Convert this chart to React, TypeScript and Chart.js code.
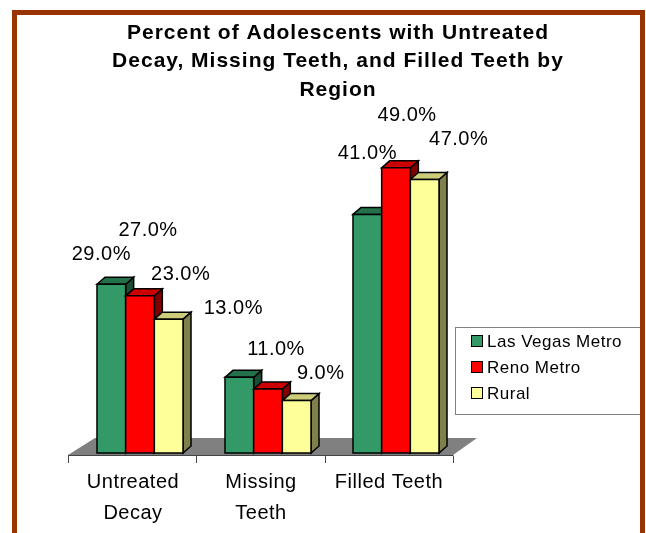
import React, { useEffect, useRef } from "react";
import { Chart, registerables } from "chart.js";

Chart.register(...registerables);

// ---- data ----
const categories: string[][] = [["Untreated", "Decay"], ["Missing", "Teeth"], ["Filled Teeth"]];
const seriesNames: string[] = ["Las Vegas Metro", "Reno Metro", "Rural"];
const lasVegasMetro: number[] = [29, 13, 41];
const renoMetro: number[] = [27, 11, 49];
const rural: number[] = [23, 9, 47];
const titleLines: string[] = [
  "Percent of Adolescents with Untreated",
  "Decay, Missing Teeth, and Filled Teeth by",
  "Region",
];

// ---- styles ----
const FONT = "'Liberation Sans', Arial, sans-serif";
const frontColors = ["#339966", "#FF0000", "#FFFF99"];
const topColors = ["#23714a", "#CC0000", "#CCCC7A"];
const sideColors = ["#1a4d33", "#800000", "#80804D"];
// label nudges (px) relative to each bar's front-top centre, per series
const labelNudge: [number, number][][] = [
  [[-10, -30], [-6, -69], [0, -61]],
  [[8, -65], [8, -39], [11, -52]],
  [[12, -45], [24, -27], [34, -40]],
];
const DEPTH_X = 8;
const DEPTH_Y = 7;

function setSpacing(ctx: any, v: string) {
  try {
    ctx.letterSpacing = v;
  } catch (e) {
    /* ignore */
  }
}

const threeDPlugin = {
  id: "threeD",
  beforeDatasetsDraw(chart: any) {
    const { ctx, chartArea } = chart;
    const L = chartArea.left, R = chartArea.right, B = chartArea.bottom;
    ctx.save();
    // floor
    ctx.fillStyle = "#808080";
    ctx.beginPath();
    ctx.moveTo(L - 8, B + 2);
    ctx.lineTo(R - 7, B + 2);
    ctx.lineTo(R + 17, B - 15);
    ctx.lineTo(L + 19, B - 15);
    ctx.closePath();
    ctx.fill();
    // axis line + ticks
    ctx.strokeStyle = "#444";
    ctx.lineWidth = 1;
    ctx.beginPath();
    ctx.moveTo(L - 8, B + 2.5);
    ctx.lineTo(R - 7, B + 2.5);
    const n = categories.length;
    for (let i = 0; i <= n; i++) {
      const x = Math.round(L - 8 + (i * (R - L + 1)) / n) + 0.5;
      ctx.moveTo(x, B + 2.5);
      ctx.lineTo(x, B + 10);
    }
    ctx.stroke();
    ctx.restore();
  },
  afterDatasetsDraw(chart: any) {
    const { ctx } = chart;
    const nCat = categories.length;
    const nSer = chart.data.datasets.length;
    ctx.save();
    ctx.lineWidth = 1.5;
    ctx.strokeStyle = "#000";
    ctx.lineJoin = "miter";
    for (let i = 0; i < nCat; i++) {
      for (let d = 0; d < nSer; d++) {
        const el: any = chart.getDatasetMeta(d).data[i];
        const x0 = el.x - el.width / 2;
        const x1 = el.x + el.width / 2;
        const top = el.y;
        const base = el.base;
        // side
        ctx.fillStyle = sideColors[d];
        ctx.beginPath();
        ctx.moveTo(x1, top);
        ctx.lineTo(x1 + DEPTH_X, top - DEPTH_Y);
        ctx.lineTo(x1 + DEPTH_X, base - DEPTH_Y);
        ctx.lineTo(x1, base);
        ctx.closePath();
        ctx.fill();
        ctx.stroke();
        // top
        ctx.fillStyle = topColors[d];
        ctx.beginPath();
        ctx.moveTo(x0, top);
        ctx.lineTo(x0 + DEPTH_X, top - DEPTH_Y);
        ctx.lineTo(x1 + DEPTH_X, top - DEPTH_Y);
        ctx.lineTo(x1, top);
        ctx.closePath();
        ctx.fill();
        ctx.stroke();
        // front
        ctx.fillStyle = frontColors[d];
        ctx.beginPath();
        ctx.rect(x0, top, x1 - x0, base - top);
        ctx.fill();
        ctx.stroke();
      }
    }
    ctx.restore();
  },
  afterDraw(chart: any) {
    const { ctx, chartArea } = chart;
    const B = chartArea.bottom;
    ctx.save();
    // data labels
    ctx.fillStyle = "#000";
    ctx.font = `20px ${FONT}`;
    setSpacing(ctx, "0.5px");
    ctx.textAlign = "center";
    ctx.textBaseline = "middle";
    chart.data.datasets.forEach((ds: any, d: number) => {
      chart.getDatasetMeta(d).data.forEach((el: any, i: number) => {
        const [nx, ny] = labelNudge[d][i];
        ctx.fillText(`${Number(ds.data[i]).toFixed(1)}%`, el.x + nx, el.y + ny);
      });
    });
    // category labels
    ctx.font = `20px ${FONT}`;
    setSpacing(ctx, "0.5px");
    const xs = chart.scales.x;
    categories.forEach((lines, i) => {
      const cx = xs.getPixelForValue(i) - 7;
      lines.forEach((t, k) => ctx.fillText(t, cx, B + 29 + k * 31));
    });
    // title
    ctx.font = `bold 21px ${FONT}`;
    setSpacing(ctx, "1px");
    titleLines.forEach((t, k) => ctx.fillText(t, 338, 33 + k * 28.5));
    // legend
    setSpacing(ctx, "0.5px");
    ctx.strokeStyle = "#808080";
    ctx.lineWidth = 1;
    ctx.strokeRect(455.5, 327.5, 186, 87);
    ctx.font = `17px ${FONT}`;
    ctx.textAlign = "left";
    seriesNames.forEach((name, k) => {
      const cy = 341 + k * 26;
      ctx.fillStyle = frontColors[k];
      ctx.fillRect(471.5, cy - 5.5, 11, 11);
      ctx.strokeStyle = "#000";
      ctx.strokeRect(471.5, cy - 5.5, 11, 11);
      ctx.fillStyle = "#000";
      ctx.fillText(name, 487, cy + 1);
    });
    setSpacing(ctx, "0px");
    // frame
    ctx.strokeStyle = "#993300";
    ctx.lineWidth = 5;
    ctx.strokeRect(14.5, 12.5, 628, 545);
    ctx.restore();
  },
};

export default function App() {
  const canvasRef = useRef<HTMLCanvasElement | null>(null);
  useEffect(() => {
    if (!canvasRef.current) return;
    const chart = new Chart(canvasRef.current, {
      type: "bar",
      data: {
        labels: categories.map((c) => c.join(" ")),
        datasets: [
          { label: seriesNames[0], data: lasVegasMetro, backgroundColor: frontColors[0] },
          { label: seriesNames[1], data: renoMetro, backgroundColor: frontColors[1] },
          { label: seriesNames[2], data: rural, backgroundColor: frontColors[2] },
        ],
      },
      options: {
        responsive: false,
        animation: false,
        layout: { padding: { left: 76, right: 186, top: 162, bottom: 80 } },
        datasets: { bar: { barPercentage: 1, categoryPercentage: 0.672, borderWidth: 0 } },
        scales: {
          x: { display: false, offset: true },
          y: { display: false, min: 0, max: 50 },
        },
        plugins: {
          legend: { display: false },
          title: { display: false },
          tooltip: { enabled: false },
        },
      },
      plugins: [threeDPlugin],
    });
    return () => chart.destroy();
  }, []);
  return (
    <div style={{ position: "absolute", left: 0, top: 0, width: 646, height: 533, background: "#fff" }}>
      <canvas ref={canvasRef} width={646} height={533} style={{ display: "block" }} />
    </div>
  );
}
